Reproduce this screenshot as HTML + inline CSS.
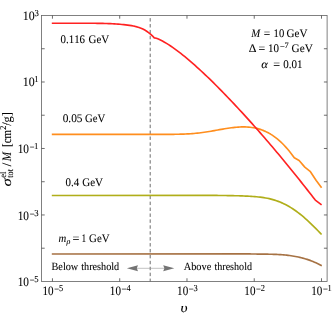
<!DOCTYPE html>
<html><head><meta charset="utf-8"><style>
html,body{margin:0;padding:0;background:#fff;}
svg{display:block;}
text{text-rendering:geometricPrecision;font-kerning:none;font-variant-ligatures:none;font-family:"Liberation Serif",serif;font-size:11.5px;fill:#000;stroke:#000;stroke-width:0.07px;white-space:pre;}
</style></head><body><div style="will-change:transform;width:332px;height:315px;overflow:hidden">
<svg width="332" height="315" viewBox="0 0 332 315">
<rect width="332" height="315" fill="#fff"/>
<rect x="41.5" y="15.5" width="285.60" height="265.95" fill="none" stroke="#626262" stroke-width="0.8"/>
<line x1="52.45" y1="281.45" x2="52.45" y2="278.25" stroke="#484848" stroke-width="0.8"/>
<line x1="52.45" y1="15.5" x2="52.45" y2="18.7" stroke="#484848" stroke-width="0.8"/>
<line x1="119.71" y1="281.45" x2="119.71" y2="278.25" stroke="#484848" stroke-width="0.8"/>
<line x1="119.71" y1="15.5" x2="119.71" y2="18.7" stroke="#484848" stroke-width="0.8"/>
<line x1="186.98" y1="281.45" x2="186.98" y2="278.25" stroke="#484848" stroke-width="0.8"/>
<line x1="186.98" y1="15.5" x2="186.98" y2="18.7" stroke="#484848" stroke-width="0.8"/>
<line x1="254.24" y1="281.45" x2="254.24" y2="278.25" stroke="#484848" stroke-width="0.8"/>
<line x1="254.24" y1="15.5" x2="254.24" y2="18.7" stroke="#484848" stroke-width="0.8"/>
<line x1="321.50" y1="281.45" x2="321.50" y2="278.25" stroke="#484848" stroke-width="0.8"/>
<line x1="321.50" y1="15.5" x2="321.50" y2="18.7" stroke="#484848" stroke-width="0.8"/>
<line x1="41.5" y1="248.21" x2="44.7" y2="248.21" stroke="#484848" stroke-width="0.8"/>
<line x1="327.1" y1="248.21" x2="323.90000000000003" y2="248.21" stroke="#484848" stroke-width="0.8"/>
<line x1="41.5" y1="214.96" x2="44.7" y2="214.96" stroke="#484848" stroke-width="0.8"/>
<line x1="327.1" y1="214.96" x2="323.90000000000003" y2="214.96" stroke="#484848" stroke-width="0.8"/>
<line x1="41.5" y1="181.72" x2="44.7" y2="181.72" stroke="#484848" stroke-width="0.8"/>
<line x1="327.1" y1="181.72" x2="323.90000000000003" y2="181.72" stroke="#484848" stroke-width="0.8"/>
<line x1="41.5" y1="148.47" x2="44.7" y2="148.47" stroke="#484848" stroke-width="0.8"/>
<line x1="327.1" y1="148.47" x2="323.90000000000003" y2="148.47" stroke="#484848" stroke-width="0.8"/>
<line x1="41.5" y1="115.23" x2="44.7" y2="115.23" stroke="#484848" stroke-width="0.8"/>
<line x1="327.1" y1="115.23" x2="323.90000000000003" y2="115.23" stroke="#484848" stroke-width="0.8"/>
<line x1="41.5" y1="81.99" x2="44.7" y2="81.99" stroke="#484848" stroke-width="0.8"/>
<line x1="327.1" y1="81.99" x2="323.90000000000003" y2="81.99" stroke="#484848" stroke-width="0.8"/>
<line x1="41.5" y1="48.74" x2="44.7" y2="48.74" stroke="#484848" stroke-width="0.8"/>
<line x1="327.1" y1="48.74" x2="323.90000000000003" y2="48.74" stroke="#484848" stroke-width="0.8"/>
<line x1="150.2" y1="18.1" x2="150.2" y2="281.45" stroke="#5c5c5c" stroke-width="0.9" stroke-dasharray="3.45,2.47"/>
<polyline points="51.80,253.95 250.00,253.93 251.47,253.97 252.93,254.00 254.40,254.02 255.86,254.05 257.33,254.06 258.79,254.08 260.26,254.10 261.72,254.11 263.19,254.12 264.65,254.14 266.12,254.16 267.58,254.18 269.05,254.21 270.51,254.24 271.98,254.28 273.44,254.32 274.91,254.37 276.38,254.43 277.84,254.50 279.31,254.58 280.77,254.68 282.24,254.78 283.70,254.90 285.17,255.03 286.63,255.18 288.10,255.35 289.56,255.53 291.03,255.73 292.49,255.95 293.96,256.19 295.42,256.45 296.89,256.73 298.36,257.03 299.82,257.36 301.29,257.71 302.75,258.09 304.22,258.50 305.68,258.93 307.15,259.39 308.61,259.88 310.08,260.40 311.54,260.95 313.01,261.53 314.47,262.15 315.94,262.80 317.40,263.48 318.87,264.20 320.33,264.96 321.80,265.75" fill="none" stroke="#a67244" stroke-width="1.65" stroke-linejoin="round"/>
<polyline points="51.80,195.45 215.00,195.43 216.81,195.44 218.61,195.45 220.42,195.47 222.23,195.49 224.03,195.51 225.84,195.53 227.65,195.56 229.45,195.58 231.26,195.62 233.07,195.66 234.87,195.70 236.68,195.75 238.49,195.80 240.29,195.86 242.10,195.93 243.91,196.00 245.72,196.08 247.52,196.17 249.33,196.26 251.14,196.37 252.94,196.48 254.75,196.62 256.56,196.77 258.36,196.95 260.17,197.15 261.98,197.38 263.78,197.64 265.59,197.95 267.40,198.29 269.20,198.68 271.01,199.11 272.82,199.60 274.62,200.14 276.43,200.73 278.24,201.39 280.04,202.10 281.85,202.87 283.66,203.71 285.46,204.60 287.27,205.55 289.08,206.56 290.88,207.64 292.69,208.78 294.50,209.98 296.31,211.25 298.11,212.58 299.92,213.98 301.73,215.44 303.53,216.95 305.34,218.53 307.15,220.16 308.95,221.83 310.76,223.55 312.57,225.30 314.37,227.10 316.18,228.92 317.99,230.77 319.79,232.65 321.60,234.54" fill="none" stroke="#b0ae1a" stroke-width="1.65" stroke-linejoin="round"/>
<polyline points="51.80,134.40 160.00,134.35 161.70,134.35 163.40,134.35 165.10,134.35 166.80,134.35 168.50,134.35 170.20,134.34 171.90,134.33 173.60,134.31 175.30,134.29 177.00,134.26 178.70,134.22 180.40,134.18 182.10,134.13 183.80,134.06 185.50,133.99 187.20,133.91 188.90,133.81 190.60,133.70 192.30,133.58 194.00,133.45 195.70,133.30 197.40,133.13 199.10,132.95 200.80,132.75 202.50,132.54 204.20,132.30 205.90,132.05 207.60,131.78 209.30,131.50 211.00,131.21 212.70,130.91 214.40,130.60 216.10,130.29 217.80,129.98 219.50,129.68 221.20,129.37 222.90,129.07 224.60,128.79 226.30,128.51 228.00,128.24 229.70,128.00 231.40,127.77 233.10,127.56 234.80,127.38 236.50,127.22 238.20,127.09 239.90,126.99 241.60,126.93 243.30,126.91 245.00,126.92 246.70,126.98 248.40,127.09 250.10,127.24 251.80,127.45 253.50,127.71 255.20,128.04 256.90,128.42 258.60,128.87 260.30,129.39 262.00,129.97 263.70,130.64 265.40,131.37 267.10,132.19 268.80,133.09 270.50,134.08 272.20,135.15 273.90,136.31 275.60,137.57 277.30,138.91 279.00,140.35 280.70,141.89 282.40,143.52 284.10,145.25 285.80,147.08 287.50,149.01 289.20,151.04 290.90,153.18 292.60,155.42 294.30,157.77 299.10,160.50 304.80,167.10 310.10,171.30 316.20,180.50 321.60,187.70" fill="none" stroke="#ff8e1e" stroke-width="1.65" stroke-linejoin="round"/>
<polyline points="51.80,23.25 80.00,23.23 81.91,23.25 83.81,23.25 85.72,23.26 87.62,23.27 89.53,23.27 91.43,23.28 93.34,23.29 95.24,23.30 97.15,23.32 99.05,23.35 100.96,23.38 102.86,23.41 104.77,23.46 106.67,23.52 108.58,23.59 110.48,23.67 112.39,23.76 114.29,23.87 116.20,23.99 118.10,24.14 120.01,24.29 121.91,24.47 123.82,24.67 125.72,24.89 127.63,25.13 129.53,25.39 131.44,25.69 133.34,26.03 135.25,26.43 137.15,26.92 139.06,27.51 140.96,28.22 142.87,29.07 144.77,30.07 146.68,31.24 148.58,32.60 150.49,34.16 152.39,35.90 154.30,37.82 156.34,38.19 158.38,39.07 160.41,40.03 162.45,41.08 164.49,42.20 166.53,43.40 168.57,44.67 170.60,46.00 172.64,47.39 174.68,48.83 176.72,50.33 178.76,51.87 180.79,53.46 182.83,55.08 184.87,56.73 186.91,58.42 188.95,60.14 190.98,61.88 193.02,63.65 195.06,65.45 197.10,67.27 199.14,69.12 201.17,70.99 203.21,72.89 205.25,74.80 207.29,76.75 209.33,78.71 211.36,80.69 213.40,82.69 215.44,84.72 217.48,86.76 219.52,88.81 221.55,90.89 223.59,92.98 225.63,95.09 227.67,97.21 229.71,99.34 231.74,101.49 233.78,103.65 235.82,105.82 237.86,108.01 239.89,110.21 241.93,112.42 243.97,114.64 246.01,116.88 248.05,119.13 250.08,121.39 252.12,123.67 254.16,125.95 256.20,128.25 258.24,130.56 260.27,132.88 262.31,135.22 264.35,137.57 266.39,139.93 268.43,142.30 270.46,144.68 272.50,147.08 274.54,149.49 276.58,151.91 278.62,154.34 280.65,156.78 282.69,159.24 284.73,161.71 286.77,164.19 288.81,166.68 290.84,169.18 292.88,171.70 294.92,174.22 296.96,176.76 299.00,179.31 301.03,181.87 303.07,184.45 305.11,187.03 307.15,189.63 309.19,192.23 311.22,194.85 313.26,197.48 315.30,200.12 321.60,204.90" fill="none" stroke="#ff2222" stroke-width="1.65" stroke-linejoin="round"/>
<line x1="136" y1="268.3" x2="165" y2="268.3" stroke="#979797" stroke-width="0.6"/>
<polygon points="126.9,268.3 138,265.3 136.8,268.3 138,271.3" fill="#747474"/>
<polygon points="174.3,268.3 163.2,265.3 164.4,268.3 163.2,271.3" fill="#747474"/>
<text transform="translate(60.56,43) scale(0.946,1)" style="font-size:11.50px">0.116</text>
<text transform="translate(88.55,43) scale(0.952,1)" style="font-size:11.50px">GeV</text>
<text transform="translate(62.67,122) scale(0.988,1)" style="font-size:11.50px">0.05</text>
<text transform="translate(85.06,122) scale(0.933,1)" style="font-size:11.50px">GeV</text>
<text transform="translate(65.58,186) scale(0.950,1)" style="font-size:11.50px">0.4</text>
<text transform="translate(82.25,186) scale(0.957,1)" style="font-size:11.50px">GeV</text>
<text transform="translate(58.61,242) scale(0.932,1)" style="font-size:11.50px" font-style="italic">m</text>
<text transform="translate(66.40,244) scale(0.980,1)" style="font-size:8.16px" font-style="italic">ρ</text>
<text transform="translate(72.59,242) scale(1.065,1)" style="font-size:11.50px">=</text>
<text transform="translate(81.48,242) scale(0.815,1)" style="font-size:11.50px">1</text>
<text transform="translate(89.06,242) scale(0.943,1)" style="font-size:11.50px">GeV</text>
<text transform="translate(51.50,270) scale(0.931,1)" style="font-size:11.00px">Below</text>
<text transform="translate(81.20,270) scale(0.929,1)" style="font-size:11.00px">threshold</text>
<text transform="translate(183.70,270) scale(0.940,1)" style="font-size:11.00px">Above</text>
<text transform="translate(214.40,270) scale(0.919,1)" style="font-size:11.00px">threshold</text>
<text transform="translate(251.33,37) scale(0.937,1)" style="font-size:11.50px" font-style="italic">M</text>
<text transform="translate(263.73,37) scale(0.990,1)" style="font-size:11.50px">=</text>
<text transform="translate(273.56,37) scale(0.925,1)" style="font-size:11.50px">10</text>
<text transform="translate(286.54,37) scale(0.966,1)" style="font-size:11.50px">GeV</text>
<text transform="translate(248.74,52) scale(1.042,1)" style="font-size:11.50px">Δ</text>
<text transform="translate(258.41,52) scale(1.028,1)" style="font-size:11.50px">=</text>
<text transform="translate(268.03,52) scale(0.955,1)" style="font-size:11.50px">10</text>
<text transform="translate(279.88,49) scale(1.026,1)" style="font-size:8.16px;stroke-width:0.18px">−</text>
<text transform="translate(284.45,48) scale(1.027,1)" style="font-size:8.16px">7</text>
<text transform="translate(291.54,52) scale(0.976,1)" style="font-size:11.50px">GeV</text>
<text transform="translate(261.23,68) scale(1.088,1)" style="font-size:11.50px" font-style="italic">α</text>
<text transform="translate(273.20,68) scale(1.046,1)" style="font-size:11.50px">=</text>
<text transform="translate(283.18,68) scale(0.958,1)" style="font-size:11.50px">0.01</text>
<text transform="translate(180.62,312) scale(1.163,1)" style="font-size:13.20px" font-style="italic">υ</text>
<text transform="translate(42.57,295) scale(0.860,1)" style="font-size:12.90px">10</text>
<text transform="translate(54.32,292) scale(0.939,1)" style="font-size:9.16px;stroke-width:0.18px">−</text>
<text transform="translate(58.96,291) scale(0.920,1)" style="font-size:9.16px">5</text>
<text transform="translate(109.84,295) scale(0.860,1)" style="font-size:12.90px">10</text>
<text transform="translate(121.58,292) scale(0.939,1)" style="font-size:9.16px;stroke-width:0.18px">−</text>
<text transform="translate(126.55,291) scale(0.920,1)" style="font-size:9.16px">4</text>
<text transform="translate(177.10,295) scale(0.860,1)" style="font-size:12.90px">10</text>
<text transform="translate(188.85,292) scale(0.939,1)" style="font-size:9.16px;stroke-width:0.18px">−</text>
<text transform="translate(193.57,291) scale(0.920,1)" style="font-size:9.16px">3</text>
<text transform="translate(244.36,295) scale(0.860,1)" style="font-size:12.90px">10</text>
<text transform="translate(256.11,292) scale(0.939,1)" style="font-size:9.16px;stroke-width:0.18px">−</text>
<text transform="translate(260.87,291) scale(0.920,1)" style="font-size:9.16px">2</text>
<text transform="translate(311.32,295) scale(0.860,1)" style="font-size:12.90px">10</text>
<text transform="translate(323.07,292) scale(0.939,1)" style="font-size:9.16px;stroke-width:0.18px">−</text>
<text transform="translate(327.46,291) scale(0.920,1)" style="font-size:9.16px">1</text>
<text transform="translate(17.70,286) scale(0.878,1)" style="font-size:12.90px">10</text>
<text transform="translate(29.78,283) scale(0.915,1)" style="font-size:9.16px;stroke-width:0.18px">−</text>
<text transform="translate(34.19,282) scale(0.950,1)" style="font-size:9.16px">5</text>
<text transform="translate(17.70,220) scale(0.878,1)" style="font-size:12.90px">10</text>
<text transform="translate(29.78,217) scale(0.915,1)" style="font-size:9.16px;stroke-width:0.18px">−</text>
<text transform="translate(34.28,216) scale(0.950,1)" style="font-size:9.16px">3</text>
<text transform="translate(17.70,153) scale(0.878,1)" style="font-size:12.90px">10</text>
<text transform="translate(29.78,150) scale(0.915,1)" style="font-size:9.16px;stroke-width:0.18px">−</text>
<text transform="translate(33.94,149) scale(0.950,1)" style="font-size:9.16px">1</text>
<text transform="translate(22.75,86) scale(0.922,1)" style="font-size:12.90px">10</text>
<text transform="translate(34.14,82) scale(0.950,1)" style="font-size:9.16px">1</text>
<text transform="translate(22.75,20) scale(0.922,1)" style="font-size:12.90px">10</text>
<text transform="translate(34.48,16) scale(0.950,1)" style="font-size:9.16px">3</text>
<text transform="translate(11.00,186.50) rotate(-90) scale(1.250,1)" style="font-size:13.416px" font-style="italic">σ</text>
<text transform="translate(12.50,177.78) rotate(-90) scale(0.913,1)" style="font-size:9.158999999999999px">tot</text>
<text transform="translate(5.80,177.63) rotate(-90) scale(0.915,1)" style="font-size:9.158999999999999px">el</text>
<text transform="translate(11.00,166.50) rotate(-90) scale(1.032,1)" style="font-size:12.9px">/</text>
<text transform="translate(11.00,161.17) rotate(-90) scale(0.870,1)" style="font-size:12.9px" font-style="italic">M</text>
<text transform="translate(11.00,146.91) rotate(-90) scale(0.847,1)" style="font-size:12.9px">[cm</text>
<text transform="translate(5.60,129.76) rotate(-90) scale(0.899,1)" style="font-size:9.158999999999999px">2</text>
<text transform="translate(11.00,125.80) rotate(-90) scale(0.950,1)" style="font-size:12.9px">/g]</text>
</svg></div>
</body></html>
